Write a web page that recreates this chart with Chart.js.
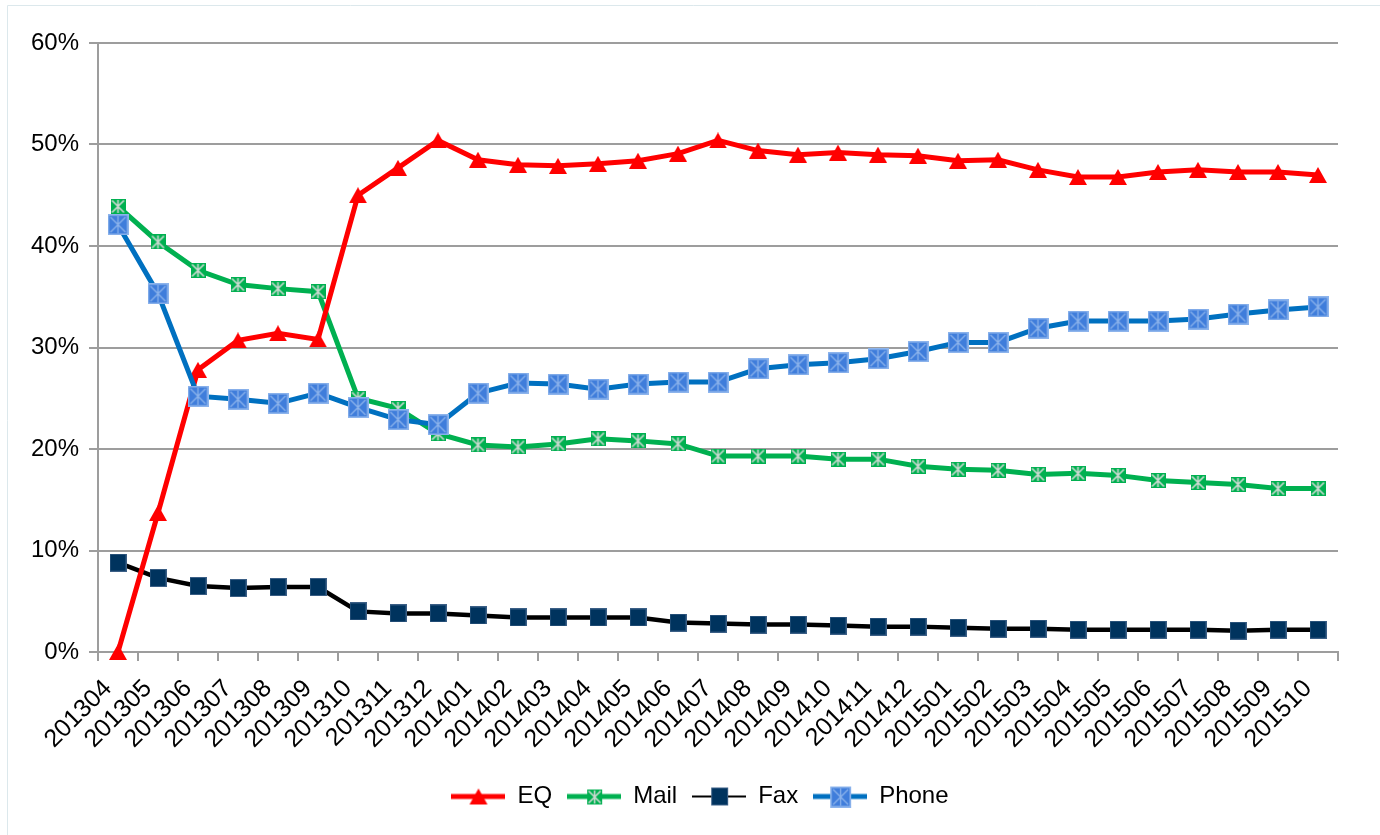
<!DOCTYPE html>
<html><head><meta charset="utf-8">
<script src="https://cdn.jsdelivr.net/npm/chart.js@4.4.0/dist/chart.umd.min.js"></script>
<style>html,body{margin:0;padding:0;background:#fff;overflow:hidden}canvas{display:block}</style>
</head><body>
<canvas id="c" width="1380" height="835"></canvas>
<script>
const categories = ['201304','201305','201306','201307','201308','201309','201310','201311','201312',
  '201401','201402','201403','201404','201405','201406','201407','201408','201409','201410','201411','201412',
  '201501','201502','201503','201504','201505','201506','201507','201508','201509','201510'];
const eq = [0, 13.7, 27.8, 30.7, 31.4, 30.8, 45.0, 47.7, 50.4,
  48.5, 48.0, 47.9, 48.1, 48.4, 49.1, 50.4, 49.4, 49.0, 49.2, 49.0, 48.9,
  48.4, 48.5, 47.5, 46.8, 46.8, 47.3, 47.5, 47.3, 47.3, 47.0];
const mail = [43.9, 40.4, 37.6, 36.2, 35.8, 35.5, 25.0, 24.0, 21.5,
  20.4, 20.2, 20.5, 21.0, 20.8, 20.5, 19.3, 19.3, 19.3, 19.0, 19.0, 18.3,
  18.0, 17.9, 17.5, 17.6, 17.4, 16.9, 16.7, 16.5, 16.1, 16.1];
const fax = [8.8, 7.3, 6.5, 6.3, 6.4, 6.4, 4.0, 3.8, 3.8,
  3.6, 3.4, 3.4, 3.4, 3.4, 2.9, 2.8, 2.7, 2.7, 2.6, 2.5, 2.5,
  2.4, 2.3, 2.3, 2.2, 2.2, 2.2, 2.2, 2.1, 2.2, 2.2];
const phone = [42.1, 35.3, 25.2, 24.9, 24.5, 25.5, 24.1, 22.9, 22.4,
  25.5, 26.5, 26.4, 25.9, 26.4, 26.6, 26.6, 27.9, 28.3, 28.5, 28.9, 29.6,
  30.5, 30.5, 31.9, 32.6, 32.6, 32.6, 32.8, 33.3, 33.7, 34.0];
const yTicks = [0, 10, 20, 30, 40, 50, 60];
const seriesNames = ['EQ', 'Mail', 'Fax', 'Phone'];

const FONT = "'Liberation Sans', Arial, sans-serif";
const gridColor = '#9d9d9d';

function mk(w, h, draw) {
  const c = document.createElement('canvas');
  c.width = w; c.height = h;
  draw(c.getContext('2d'), w, h);
  return c;
}
const eqMarker = mk(18, 16, (g, w, h) => {
  g.fillStyle = '#ff0000';
  g.beginPath(); g.moveTo(w / 2, 0); g.lineTo(w, h); g.lineTo(0, h); g.closePath(); g.fill();
});
const mailMarker = mk(15, 15, (g, w, h) => {
  g.fillStyle = '#00b050'; g.fillRect(0, 0, w, h);
  g.strokeStyle = '#cdd9d2'; g.lineWidth = 1.6;
  g.beginPath();
  g.moveTo(1.5, 1.5); g.lineTo(w - 1.5, h - 1.5);
  g.moveTo(w - 1.5, 1.5); g.lineTo(1.5, h - 1.5);
  g.moveTo(w / 2, 1); g.lineTo(w / 2, h - 1);
  g.stroke();
});
const faxMarker = mk(17, 18, (g, w, h) => {
  g.fillStyle = '#00335e'; g.fillRect(0, 0, w, h);
  g.strokeStyle = '#3b5f86'; g.lineWidth = 1; g.strokeRect(0.5, 0.5, w - 1, h - 1);
});
const phoneMarker = mk(21, 21, (g, w, h) => {
  g.fillStyle = '#3f7ddb'; g.fillRect(0, 0, w, h);
  g.strokeStyle = '#8db4ec'; g.lineWidth = 1.6; g.strokeRect(0.8, 0.8, w - 1.6, h - 1.6);
  g.lineWidth = 1.3;
  g.beginPath();
  g.moveTo(3, 3); g.lineTo(w - 3, h - 3);
  g.moveTo(w - 3, 3); g.lineTo(3, h - 3);
  g.moveTo(w / 2, 2); g.lineTo(w / 2, h - 2);
  g.stroke();
});
function legendIcon(color, lw, marker) {
  return mk(54, 22, (g, w, h) => {
    g.strokeStyle = color; g.lineWidth = lw;
    g.beginPath(); g.moveTo(0, h / 2); g.lineTo(w, h / 2); g.stroke();
    g.drawImage(marker, Math.round((w - marker.width) / 2), Math.round((h - marker.height) / 2));
  });
}
const styles = [
  { color: '#ff0000', width: 5, marker: eqMarker, legendLine: 5, order: 1 },
  { color: '#00b050', width: 5, marker: mailMarker, legendLine: 5, order: 2 },
  { color: '#000000', width: 4.5, marker: faxMarker, legendLine: 2, order: 3 },
  { color: '#0070c0', width: 5, marker: phoneMarker, legendLine: 5, order: 0 }
];
const seriesData = [eq, mail, fax, phone];

const datasets = seriesNames.map((name, i) => ({
  label: name,
  data: seriesData[i],
  borderColor: styles[i].color,
  backgroundColor: styles[i].color,
  borderWidth: styles[i].width,
  pointStyle: styles[i].marker,
  pointRadius: 9,
  pointHoverRadius: 9,
  tension: 0,
  fill: false,
  clip: false,
  order: styles[i].order
}));

const bgPlugin = {
  id: 'bg',
  beforeDraw(chart) {
    const g = chart.ctx;
    g.save();
    g.fillStyle = '#fff'; g.fillRect(0, 0, chart.width, chart.height);
    g.strokeStyle = '#dce8ec'; g.lineWidth = 1;
    g.beginPath(); g.moveTo(7.5, 835); g.lineTo(7.5, 5.5); g.lineTo(1380, 5.5); g.stroke();
    g.restore();
  },
  afterLayout(chart) {
    if (chart.legend) { chart.legend.left += 10; chart.legend.right += 10; }
  }
};

new Chart(document.getElementById('c'), {
  type: 'line',
  data: { labels: categories, datasets },
  plugins: [bgPlugin],
  options: {
    responsive: false,
    animation: false,
    devicePixelRatio: 1,
    layout: { padding: { left: 0, right: 0, top: 43, bottom: 16.5 } },
    plugins: {
      tooltip: { enabled: false },
      legend: {
        position: 'bottom',
        labels: {
          usePointStyle: true,
          pointStyleWidth: 54,
          boxHeight: 22,
          padding: 15,
          color: '#000',
          font: { family: FONT, size: 24 },
          generateLabels(chart) {
            return chart.data.datasets.map((ds, i) => ({
              text: ds.label,
              pointStyle: legendIcon(styles[i].color, styles[i].legendLine, styles[i].marker),
              fillStyle: styles[i].color,
              strokeStyle: styles[i].color,
              lineWidth: 0,
              hidden: false,
              datasetIndex: i
            }));
          }
        }
      }
    },
    scales: {
      x: {
        type: 'category',
        offset: true,
        grid: { offset: true, drawOnChartArea: false, color: gridColor, lineWidth: 2, tickLength: 9 },
        border: { display: true, color: gridColor, width: 2 },
        ticks: { autoSkip: false, maxRotation: 45, minRotation: 45, color: '#000',
          font: { family: FONT, size: 25 }, padding: 13, labelOffset: -10 },
        afterFit(s) { s.height = 117.5; }
      },
      y: {
        min: 0, max: 60,
        afterBuildTicks(s) { s.ticks = yTicks.map(v => ({ value: v })); },
        ticks: { callback: v => v + '%', color: '#000', font: { family: FONT, size: 24 }, padding: 10 },
        grid: { color: gridColor, lineWidth: 2, tickLength: 9 },
        border: { display: true, color: gridColor, width: 2 },
        afterFit(s) { s.width = 98; }
      },
      y2: {
        position: 'right',
        display: true,
        grid: { display: false, drawTicks: false },
        border: { display: false },
        ticks: { display: false },
        afterFit(s) { s.width = 42; }
      }
    }
  }
});
</script>
</body></html>
